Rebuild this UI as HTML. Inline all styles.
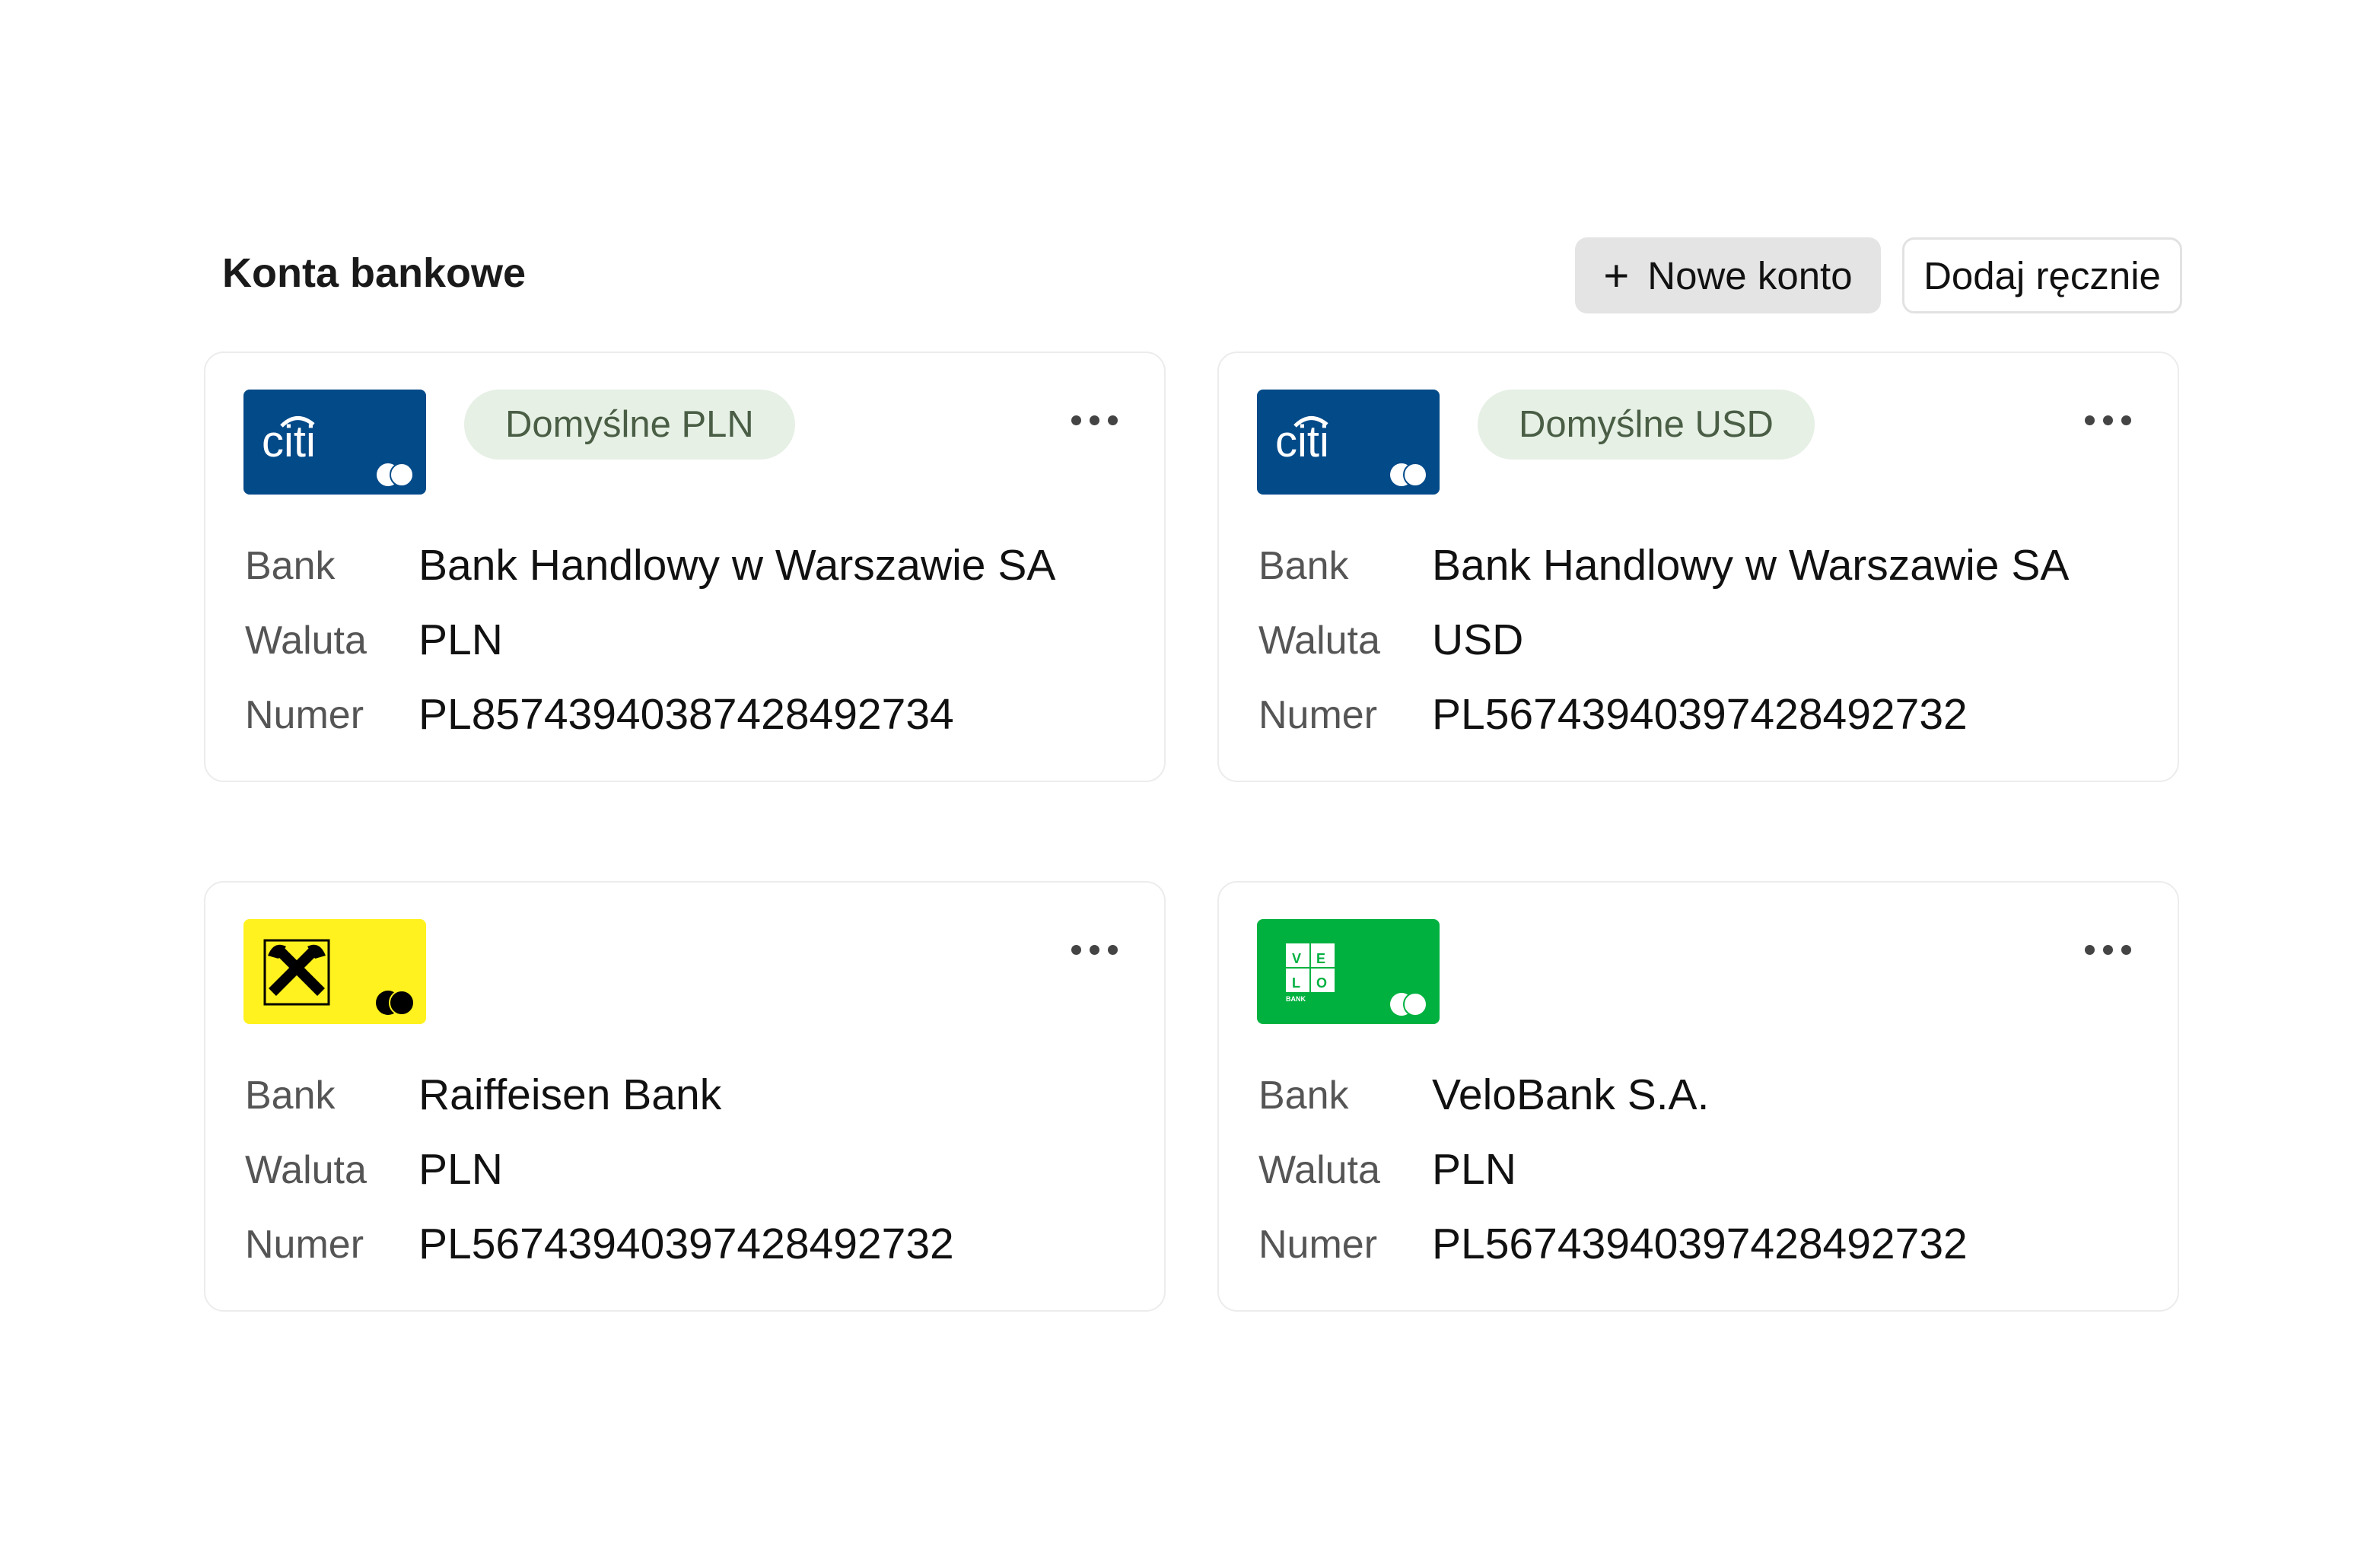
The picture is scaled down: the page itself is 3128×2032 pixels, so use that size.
<!DOCTYPE html>
<html><head><meta charset="utf-8"><style>
*{margin:0;padding:0;box-sizing:border-box}
body{width:3128px;height:2032px;background:#fff;font-family:"Liberation Sans",sans-serif;position:relative;overflow:hidden;color:#111}
.abs{position:absolute}
.title{left:292px;top:328px;font-size:54px;font-weight:bold;color:#1a1a1a}
.btn{top:312px;height:100px;border-radius:16px;font-size:51px;display:flex;align-items:center;justify-content:center;color:#111}
.card{width:1264px;height:566px;border:2px solid #ececec;border-radius:26px;background:#fff}
.logo{left:50px;top:48px;width:240px;height:138px;border-radius:8px;overflow:hidden}
.badge{left:340px;top:48px;height:92px;border-radius:46px;background:#e6f0e5;color:#4a5e45;font-size:49px;display:flex;align-items:center;padding:0 54px}
.dots{left:1138px;top:82px;width:64px;height:14px}
.dots i{position:absolute;top:0;width:13px;height:13px;border-radius:50%;background:#444}
.lbl{left:52px;font-size:52px;color:#555}
.val{left:280px;font-size:57px;color:#111}
</style></head><body>
<div class="abs title">Konta bankowe</div>
<div class="abs btn" style="left:2070px;width:402px;background:#e4e4e4"><span style="font-size:58px;margin-right:24px;font-weight:300">+</span>Nowe konto</div>
<div class="abs btn" style="left:2500px;width:368px;border:3px solid #e2e2e2;background:#fff">Dodaj ręcznie</div>

<!-- Card 1 -->
<div class="abs card" style="left:268px;top:462px">
 <div class="abs logo" style="background:#034a89">
  <svg width="240" height="138" viewBox="0 0 240 138"><text x="24" y="88" font-family="Liberation Sans" font-size="58" fill="#fff">citi</text><path d="M50 48 Q70 28 92 46" stroke="#fff" stroke-width="5" fill="none"/><circle cx="190" cy="112" r="15" fill="#fff"/><circle cx="208" cy="112" r="15" fill="#fff" stroke="#034a89" stroke-width="2"/></svg>
 </div>
 <div class="abs badge">Domyślne PLN</div>
 <div class="abs dots"><i style="left:0"></i><i style="left:24px"></i><i style="left:48px"></i></div>
 <div class="abs lbl" style="top:250px">Bank</div><div class="abs val" style="top:246px">Bank Handlowy w Warszawie SA</div>
 <div class="abs lbl" style="top:348px">Waluta</div><div class="abs val" style="top:344px">PLN</div>
 <div class="abs lbl" style="top:446px">Numer</div><div class="abs val" style="top:442px">PL85743940387428492734</div>
</div>

<!-- Card 2 -->
<div class="abs card" style="left:1600px;top:462px">
 <div class="abs logo" style="background:#034a89">
  <svg width="240" height="138" viewBox="0 0 240 138"><text x="24" y="88" font-family="Liberation Sans" font-size="58" fill="#fff">citi</text><path d="M50 48 Q70 28 92 46" stroke="#fff" stroke-width="5" fill="none"/><circle cx="190" cy="112" r="15" fill="#fff"/><circle cx="208" cy="112" r="15" fill="#fff" stroke="#034a89" stroke-width="2"/></svg>
 </div>
 <div class="abs badge">Domyślne USD</div>
 <div class="abs dots"><i style="left:0"></i><i style="left:24px"></i><i style="left:48px"></i></div>
 <div class="abs lbl" style="top:250px">Bank</div><div class="abs val" style="top:246px">Bank Handlowy w Warszawie SA</div>
 <div class="abs lbl" style="top:348px">Waluta</div><div class="abs val" style="top:344px">USD</div>
 <div class="abs lbl" style="top:446px">Numer</div><div class="abs val" style="top:442px">PL56743940397428492732</div>
</div>

<!-- Card 3 -->
<div class="abs card" style="left:268px;top:1158px">
 <div class="abs logo" style="background:#fff21e">
  <svg width="240" height="138" viewBox="0 0 240 138"><rect x="28" y="28" width="84" height="84" fill="none" stroke="#000" stroke-width="3"/><path d="M38 96 L94 40 M102 96 L46 40" stroke="#000" stroke-width="14"/><path d="M32 48 Q40 28 56 36 L46 52Z M108 48 Q100 28 84 36 L94 52Z" fill="#000"/><circle cx="190" cy="110" r="16" fill="#000"/><circle cx="208" cy="110" r="16" fill="#000" stroke="#fff21e" stroke-width="2"/></svg>
 </div>
 <div class="abs dots"><i style="left:0"></i><i style="left:24px"></i><i style="left:48px"></i></div>
 <div class="abs lbl" style="top:250px">Bank</div><div class="abs val" style="top:246px">Raiffeisen Bank</div>
 <div class="abs lbl" style="top:348px">Waluta</div><div class="abs val" style="top:344px">PLN</div>
 <div class="abs lbl" style="top:446px">Numer</div><div class="abs val" style="top:442px">PL56743940397428492732</div>
</div>

<!-- Card 4 -->
<div class="abs card" style="left:1600px;top:1158px">
 <div class="abs logo" style="background:#00b140">
  <svg width="240" height="138" viewBox="0 0 240 138"><rect x="38" y="32" width="64" height="64" fill="#fff"/><path d="M70 32V96M38 64H102" stroke="#00b140" stroke-width="2"/><text x="46" y="58" font-family="Liberation Sans" font-weight="bold" font-size="18" fill="#00b140">V</text><text x="78" y="58" font-family="Liberation Sans" font-weight="bold" font-size="18" fill="#00b140">E</text><text x="46" y="90" font-family="Liberation Sans" font-weight="bold" font-size="18" fill="#00b140">L</text><text x="78" y="90" font-family="Liberation Sans" font-weight="bold" font-size="18" fill="#00b140">O</text><text x="38" y="108" font-family="Liberation Sans" font-weight="bold" font-size="9" fill="#fff">BANK</text><circle cx="190" cy="112" r="15" fill="#fff"/><circle cx="208" cy="112" r="15" fill="#fff" stroke="#00b140" stroke-width="2"/></svg>
 </div>
 <div class="abs dots"><i style="left:0"></i><i style="left:24px"></i><i style="left:48px"></i></div>
 <div class="abs lbl" style="top:250px">Bank</div><div class="abs val" style="top:246px">VeloBank S.A.</div>
 <div class="abs lbl" style="top:348px">Waluta</div><div class="abs val" style="top:344px">PLN</div>
 <div class="abs lbl" style="top:446px">Numer</div><div class="abs val" style="top:442px">PL56743940397428492732</div>
</div>
</body></html>
